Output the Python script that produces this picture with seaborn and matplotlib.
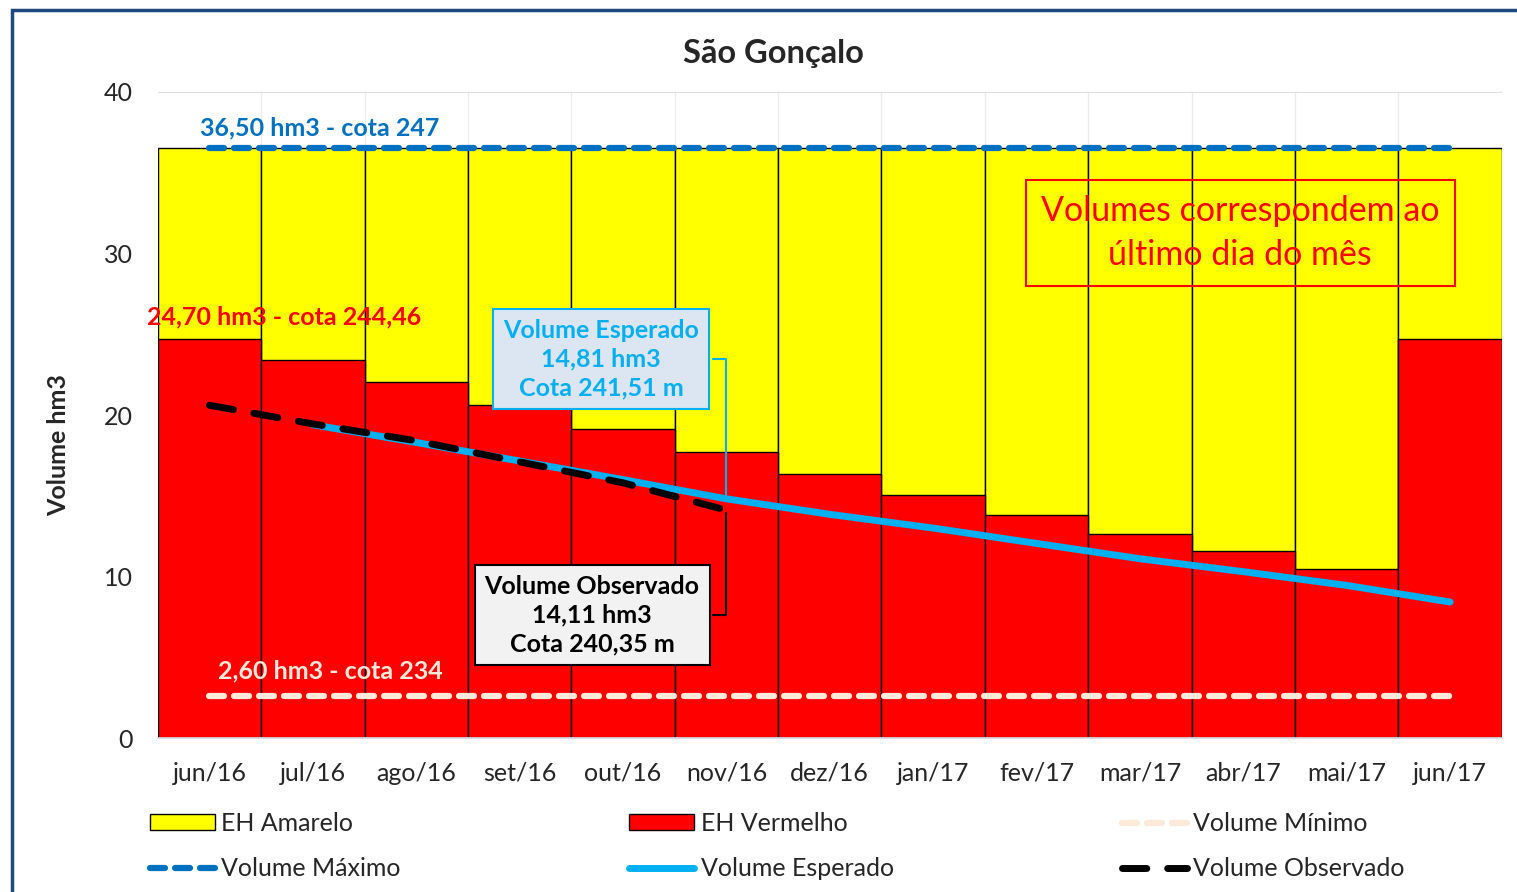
import numpy as np
import pandas as pd
import seaborn as sns
import matplotlib.pyplot as plt
from matplotlib.patches import Patch, Rectangle
from matplotlib.lines import Line2D

# === dados ===
meses = ["jun/16", "jul/16", "ago/16", "set/16", "out/16", "nov/16", "dez/16",
         "jan/17", "fev/17", "mar/17", "abr/17", "mai/17", "jun/17"]
eh_vermelho = [24.70, 23.40, 22.04, 20.62, 19.13, 17.71, 16.35,
               15.05, 13.81, 12.63, 11.58, 10.46, 24.70]
volume_maximo = 36.50
volume_minimo = 2.60
volume_esperado = [np.nan, 19.40, 18.30, 17.15, 16.00, 14.81, 13.85,
                   13.00, 12.05, 11.10, 10.30, 9.45, 8.42]
volume_observado = [20.60, 19.45, 18.40, 17.10, 15.80, 14.11] + [np.nan] * 7

df = pd.DataFrame({
    "mes": meses,
    "vermelho": eh_vermelho,
    "amarelo_topo": [volume_maximo] * len(meses),
    "esperado": volume_esperado,
    "observado": volume_observado,
})
x = np.arange(len(meses))

AMARELO = "#FFFF00"
VERMELHO = "#FF0000"
AZUL_MAX = "#0070C0"
AZUL_ESP = "#00B0F0"
MINIMO = "#FDE9D9"
FS = 18

sns.set_theme(style="white")
plt.rcParams["font.family"] = ["Lato", "DejaVu Sans"]

fig = plt.figure(figsize=(15.17, 8.92), dpi=100)
ax = fig.add_axes([0.104, 0.1726, 0.886, 0.7243])

# barras empilhadas (amarelo até o volume máximo, vermelho por cima)
sns.barplot(data=df, x="mes", y="amarelo_topo", color=AMARELO, width=1.0,
            edgecolor="black", linewidth=1, saturation=1, ax=ax, zorder=2)
sns.barplot(data=df, x="mes", y="vermelho", color=VERMELHO, width=1.0,
            edgecolor="black", linewidth=1, saturation=1, ax=ax, zorder=2)

# linhas
ax.plot(x, [volume_maximo] * len(x), color=AZUL_MAX, lw=4.5,
        dashes=(2.4, 1.6), dash_capstyle="round", zorder=4)
ax.plot(x, [volume_minimo] * len(x), color=MINIMO, lw=4.5,
        dashes=(2.4, 1.6), dash_capstyle="round", zorder=4)
ax.plot(x, df["esperado"], color=AZUL_ESP, lw=5, solid_capstyle="round", zorder=5)
ax.plot(x, df["observado"], color="black", lw=5, dashes=(3.5, 3.0),
        dash_capstyle="round", zorder=6)

ax.set_xlim(-0.5, len(meses) - 0.5)
ax.set_ylim(0, 40)
ax.set_yticks([0, 10, 20, 30, 40])
ax.set_xticks(x)
ax.set_xticklabels(meses)
ax.set_xticks(x[:-1] + 0.5, minor=True)
ax.tick_params(axis="both", which="both", length=0, labelsize=FS)
ax.tick_params(axis="x", pad=17)
ax.tick_params(axis="y", pad=18)
ax.grid(axis="y", color="#D9D9D9", lw=1.2, zorder=0)
ax.grid(axis="x", which="minor", color="#EBEBEB", lw=1, zorder=0)
ax.set_axisbelow(True)
for s in ["top", "right", "left"]:
    ax.spines[s].set_visible(False)
ax.spines["bottom"].set_color("#D9D9D9")
ax.set_xlabel("")
ax.set_ylabel("Volume hm3", fontsize=FS, fontweight="bold", labelpad=24)
ax.yaxis.label.set_y(0.4536)
fig.text(773 / 1517, 1 - 54 / 892, "São Gonçalo", fontsize=23.5, fontweight="bold",
         ha="center", va="center")

# rótulos das linhas de referência
ax.text(-0.094, 37.8, "36,50 hm3 - cota 247", color=AZUL_MAX, fontsize=FS,
        fontweight="bold", va="center", ha="left", zorder=7)
ax.text(-0.606, 26.07, "24,70 hm3 - cota 244,46", color=VERMELHO, fontsize=FS,
        fontweight="bold", va="center", ha="left", zorder=7)
ax.text(0.08, 4.15, "2,60 hm3 - cota 234", color=MINIMO, fontsize=FS,
        fontweight="bold", va="center", ha="left", zorder=7)

# caixas de destaque
ax.annotate("Volume Esperado\n14,81 hm3\nCota 241,51 m", xy=(5, 14.81),
            xytext=(3.79, 23.47), ha="center", va="center", fontsize=FS,
            fontweight="bold", color=AZUL_ESP, linespacing=1.3, zorder=8,
            bbox=dict(boxstyle="square,pad=0.4", fc="#DCE6F2", ec=AZUL_ESP, lw=1.5),
            arrowprops=dict(arrowstyle="-", color=AZUL_ESP, lw=1.5,
                            connectionstyle="angle,angleA=0,angleB=90,rad=0"))
ax.annotate("Volume Observado\n14,11 hm3\nCota 240,35 m", xy=(5, 14.11),
            xytext=(3.70, 7.6), ha="center", va="center", fontsize=FS,
            fontweight="bold", color="black", linespacing=1.3, zorder=8,
            bbox=dict(boxstyle="square,pad=0.4", fc="#F2F2F2", ec="black", lw=1.5),
            arrowprops=dict(arrowstyle="-", color="black", lw=1.5,
                            connectionstyle="angle,angleA=0,angleB=90,rad=0"))
ax.text(9.97, 31.27, "Volumes correspondem ao\núltimo dia do mês", ha="center",
        va="center", fontsize=24.5, color=VERMELHO, linespacing=1.45, zorder=8,
        bbox=dict(boxstyle="square,pad=0.45", fc="none", ec=VERMELHO, lw=1.5))

# legenda
handles = [
    Patch(fc=AMARELO, ec="black", lw=1, label="EH Amarelo"),
    Line2D([], [], color=AZUL_MAX, lw=4.5, dashes=(2.4, 1.6),
           dash_capstyle="round", label="Volume Máximo"),
    Patch(fc=VERMELHO, ec="black", lw=1, label="EH Vermelho"),
    Line2D([], [], color=AZUL_ESP, lw=5, solid_capstyle="round", label="Volume Esperado"),
    Line2D([], [], color=MINIMO, lw=4.5, dashes=(2.4, 1.6),
           dash_capstyle="round", label="Volume Mínimo"),
    Line2D([], [], color="black", lw=5, dashes=(3.5, 3.0),
           dash_capstyle="round", label="Volume Observado"),
]
fig.legend(handles=handles, ncol=3, loc="lower left",
           bbox_to_anchor=(150 / 1517, 0.013, (1405 - 150) / 1517, 0.1),
           mode="expand", borderaxespad=0, borderpad=0,
           frameon=False, fontsize=FS, handlelength=2.6, handleheight=0.6,
           handletextpad=0.25, labelspacing=0.9)

# moldura azul
fig.patches.append(Rectangle((12 / 1517, -0.2), 2.0, 1.2 - 10 / 892,
                             transform=fig.transFigure, fill=False,
                             ec="#1F497D", lw=2.5, zorder=10))

fig.savefig("out.png", dpi=100)
